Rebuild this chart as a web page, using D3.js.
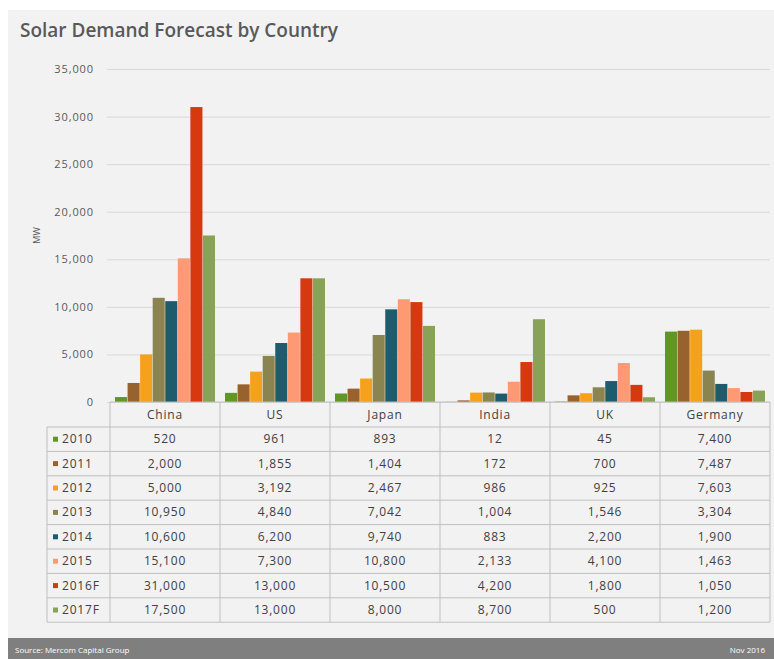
<!DOCTYPE html>
<html>
<head>
<meta charset="utf-8">
<script src="https://cdn.jsdelivr.net/npm/d3@7"></script>
<style>
  body { margin: 0; background: #fff; }
  svg { display: block; font-family: "Open Sans", "Liberation Sans", sans-serif; }
</style>
</head>
<body>
<div id="chart"></div>
<script>
// data
var countries = ["China", "US", "Japan", "India", "UK", "Germany"]
var years = ["2010", "2011", "2012", "2013", "2014", "2015", "2016F", "2017F"]
var v2010 = [520, 961, 893, 12, 45, 7400]
var v2011 = [2000, 1855, 1404, 172, 700, 7487]
var v2012 = [5000, 3192, 2467, 986, 925, 7603]
var v2013 = [10950, 4840, 7042, 1004, 1546, 3304]
var v2014 = [10600, 6200, 9740, 883, 2200, 1900]
var v2015 = [15100, 7300, 10800, 2133, 4100, 1463]
var v2016F = [31000, 13000, 10500, 4200, 1800, 1050]
var v2017F = [17500, 13000, 8000, 8700, 500, 1200]
var yTicks = [0, 5000, 10000, 15000, 20000, 25000, 30000, 35000]

var series = [v2010, v2011, v2012, v2013, v2014, v2015, v2016F, v2017F]
var colors = ["#5f9626", "#98622f", "#f5a11c", "#8a8451", "#1d5b6d", "#fd9a74", "#d6380f", "#88a357"]

var width = 774, height = 659
var plotTop = 69, plotBottom = 402, plotLeft = 110, plotRight = 770
var tableLeft = 47, rowH = 24.4, headH = 25

var svg = d3.select("#chart")
  .append("svg")
  .attr("width", width)
  .attr("height", height)

// panel background
svg.append("rect")
  .attr("x", 8).attr("y", 10)
  .attr("width", width - 8).attr("height", 628)
  .attr("fill", "#f2f2f2")

// title
svg.append("text")
  .attr("x", 20).attr("y", 37)
  .style("font-size", "19px")
  .style("font-weight", "600")
  .style("fill", "#595959")
  .text("Solar Demand Forecast by Country")

// scales
var yScale = d3.scaleLinear()
  .domain([0, 35000])
  .range([plotBottom, plotTop])

var xScale = d3.scaleBand()
  .domain(countries)
  .range([plotLeft, plotRight])

var xInner = d3.scaleBand()
  .domain(years)
  .range([5, xScale.bandwidth() - 5])
  .paddingInner(0.04)

// grid
var yGrid = d3.axisLeft(yScale)
  .tickValues(yTicks)
  .tickSize(-(plotRight - plotLeft + 3))
  .tickFormat("")

svg.append("g")
  .attr("transform", `translate(${plotLeft - 3},0)`)
  .attr("class", "grid")
  .call(yGrid)
  .call(g => g.select(".domain").remove())
  .selectAll("line")
  .style("stroke", "#d9d9d9")

// y axis labels
var yAxis = d3.axisLeft(yScale)
  .tickValues(yTicks)
  .tickSize(0)
  .tickPadding(0)
  .tickFormat(d3.format(","))

svg.append("g")
  .attr("transform", `translate(94,0)`)
  .attr("class", "y-axis")
  .call(yAxis)
  .call(g => g.select(".domain").remove())
  .selectAll("text")
  .style("font-size", "11px")
  .style("letter-spacing", "0.9px")
  .style("font-family", "'Open Sans', sans-serif")
  .style("fill", "#595959")

svg.append("text")
  .attr("text-anchor", "middle")
  .attr("transform", `translate(40,${(plotTop + plotBottom) / 2}) rotate(-90)`)
  .style("font-size", "9px")
  .style("fill", "#595959")
  .text("MW")

// bars
var groups = svg.append("g")
  .attr("class", "bars")
  .selectAll("g")
  .data(series)
  .enter()
  .append("g")
  .attr("fill", (d, i) => colors[i])

groups.each(function(vals, i) {
  d3.select(this).selectAll("rect")
    .data(vals)
    .enter()
    .append("rect")
    .attr("x", (d, j) => xScale(countries[j]) + xInner(years[i]))
    .attr("y", d => yScale(d))
    .attr("width", xInner.bandwidth())
    .attr("height", d => plotBottom - yScale(d))
})

// data table
var table = svg.append("g").attr("class", "table")
var tableBottom = plotBottom + headH + rowH * years.length
var lineColor = "#bfbfbf"

// horizontal lines
table.append("line")
  .attr("x1", plotLeft).attr("x2", plotRight)
  .attr("y1", plotBottom).attr("y2", plotBottom)
  .style("stroke", lineColor)
years.forEach(function(y, i) {
  var yy = plotBottom + headH + rowH * i
  table.append("line")
    .attr("x1", tableLeft).attr("x2", plotRight)
    .attr("y1", yy).attr("y2", yy)
    .style("stroke", lineColor)
})
table.append("line")
  .attr("x1", tableLeft).attr("x2", plotRight)
  .attr("y1", tableBottom).attr("y2", tableBottom)
  .style("stroke", lineColor)

// vertical lines
table.append("line")
  .attr("x1", tableLeft).attr("x2", tableLeft)
  .attr("y1", plotBottom + headH).attr("y2", tableBottom)
  .style("stroke", lineColor)
countries.concat(["end"]).forEach(function(c, i) {
  var xx = i < countries.length ? xScale(c) : plotRight
  table.append("line")
    .attr("x1", xx).attr("x2", xx)
    .attr("y1", plotBottom).attr("y2", tableBottom)
    .style("stroke", lineColor)
})

var cellFont = "12px"
var cellSpacing = "0.8px"

// country headers
table.selectAll(".country")
  .data(countries)
  .enter()
  .append("text")
  .attr("class", "country")
  .attr("x", d => xScale(d) + xScale.bandwidth() / 2)
  .attr("y", plotBottom + headH / 2 + 4)
  .attr("text-anchor", "middle")
  .style("font-size", cellFont)
  .style("letter-spacing", cellSpacing)
  .style("fill", "#404040")
  .text(d => d)

// rows
years.forEach(function(y, i) {
  var cy = plotBottom + headH + rowH * i + rowH / 2
  table.append("rect")
    .attr("x", 53).attr("y", cy - 2.5)
    .attr("width", 5).attr("height", 5)
    .attr("fill", colors[i])
  table.append("text")
    .attr("x", 62).attr("y", cy + 4)
    .style("font-size", cellFont)
    .style("letter-spacing", cellSpacing)
    .style("fill", "#404040")
    .text(y)
  table.selectAll(".cell-" + i)
    .data(series[i])
    .enter()
    .append("text")
    .attr("class", "cell-" + i)
    .attr("x", (d, j) => xScale(countries[j]) + xScale.bandwidth() / 2)
    .attr("y", cy + 4)
    .attr("text-anchor", "middle")
    .style("font-size", cellFont)
    .style("letter-spacing", cellSpacing)
    .style("fill", "#404040")
    .text(d => d3.format(",")(d))
})

// footer
svg.append("rect")
  .attr("x", 8).attr("y", 638)
  .attr("width", width - 8).attr("height", 21)
  .attr("fill", "#7f7f7f")

svg.append("text")
  .attr("x", 15).attr("y", 653)
  .style("font-size", "8px")
  .style("fill", "#ffffff")
  .text("Source: Mercom Capital Group")

svg.append("text")
  .attr("x", 765).attr("y", 653)
  .attr("text-anchor", "end")
  .style("font-size", "8px")
  .style("fill", "#ffffff")
  .text("Nov 2016")
</script>
</body>
</html>
